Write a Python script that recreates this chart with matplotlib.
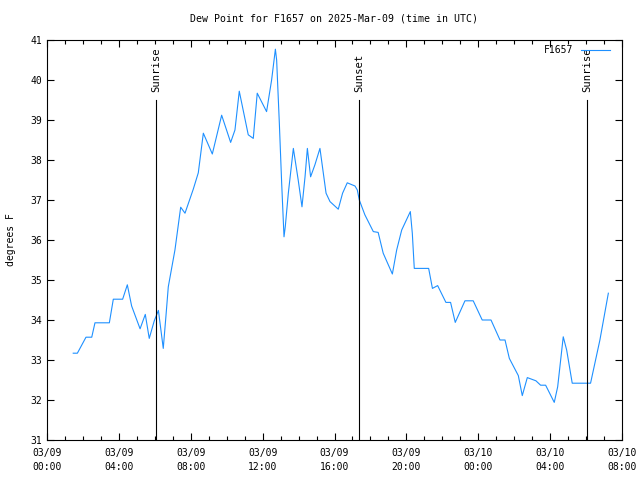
import matplotlib
matplotlib.use("Agg")
import matplotlib.pyplot as plt
from matplotlib.ticker import MultipleLocator

# hours since 2025-03-09 00:00 UTC
hours = [1.46, 1.69, 2.17, 2.49, 2.67, 3.47, 3.69, 4.21, 4.47, 4.71, 5.18, 5.47,
         5.69, 5.97, 6.2, 6.47, 6.62, 6.75, 7.12, 7.44, 7.68, 8.14, 8.42, 8.7,
         9.2, 9.72, 10.22, 10.46, 10.7, 11.2, 11.48, 11.7, 12.22, 12.5, 12.71,
         12.78, 12.93, 13.06, 13.19, 13.26, 13.43, 13.71, 13.98, 14.19, 14.36,
         14.49, 14.67, 14.91, 15.19, 15.53, 15.75, 16.21, 16.45, 16.71, 17.14,
         17.27, 17.38, 17.69, 18.16, 18.43, 18.71, 19.22, 19.46, 19.74, 20.22,
         20.33, 20.44, 21.24, 21.45, 21.74, 22.2, 22.46, 22.72, 23.26, 23.72,
         24.22, 24.71, 25.21, 25.49, 25.73, 26.23, 26.45, 26.73, 27.21, 27.47,
         27.75, 28.23, 28.42, 28.73, 28.92, 29.23, 30.25, 30.77, 31.24]
dewpoint = [33.17, 33.17, 33.57, 33.57, 33.93, 33.93, 34.52, 34.52, 34.88, 34.35,
            33.78, 34.14, 33.54, 33.98, 34.24, 33.29, 34.1, 34.83, 35.75, 36.82,
            36.67, 37.27, 37.68, 38.67, 38.15, 39.12, 38.44, 38.75, 39.72, 38.63,
            38.54, 39.67, 39.21, 40.0, 40.77, 40.5, 38.92, 37.42, 36.08, 36.33,
            37.17, 38.29, 37.5, 36.83, 37.58, 38.29, 37.58, 37.88, 38.29, 37.17,
            36.96, 36.77, 37.17, 37.43, 37.35, 37.25, 37.0, 36.63, 36.21, 36.19,
            35.67, 35.15, 35.75, 36.25, 36.71, 36.17, 35.29, 35.29, 34.79, 34.86,
            34.44, 34.44, 33.94, 34.48, 34.48, 34.0, 34.0, 33.5, 33.5, 33.04,
            32.61, 32.11, 32.56, 32.48, 32.37, 32.37, 31.94, 32.33, 33.58, 33.25,
            32.42, 32.42, 33.5, 34.67]

sun_events = ["Sunrise", "Sunset", "Sunrise"]
sun_hours = [6.07, 17.36, 30.05]

tick_hours = [0, 4, 8, 12, 16, 20, 24, 28, 32]
tick_labels = ["03/09\n00:00", "03/09\n04:00", "03/09\n08:00", "03/09\n12:00",
               "03/09\n16:00", "03/09\n20:00", "03/10\n00:00", "03/10\n04:00",
               "03/10\n08:00"]

plt.rcParams['font.family'] = 'DejaVu Sans Mono'

fig = plt.figure(figsize=(6.4, 4.8), dpi=100)
ax = fig.add_axes([47/640, 40/480, 575/640, 400/480])

ax.plot(hours, dewpoint, color='#1e90ff', lw=0.8, label='F1657')

for name, h in zip(sun_events, sun_hours):
    ax.plot([h, h], [31, 39.5], color='black', lw=0.8)
    ax.text(h, 39.69, name, rotation=90, ha='center', va='bottom', fontsize=7.6)

ax.set_xlim(0, 32)
ax.set_ylim(31, 41)
ax.set_xticks(tick_hours)
ax.set_xticklabels(tick_labels, linespacing=1.45)
ax.xaxis.set_minor_locator(MultipleLocator(1))
ax.yaxis.set_major_locator(MultipleLocator(1))
ax.tick_params(which='both', direction='in', top=True, right=True, labelsize=7,
               width=0.8)
ax.tick_params(which='major', length=5)
ax.tick_params(which='minor', length=3)
ax.tick_params(axis='x', pad=6)
for s in ax.spines.values():
    s.set_linewidth(0.8)
ax.set_ylabel('degrees F', fontsize=7, labelpad=10)
ax.set_title('Dew Point for F1657 on 2025-Mar-09 (time in UTC)', fontsize=7.1, pad=13)

leg = ax.legend(loc='upper right', bbox_to_anchor=(0.979, 0.9875), frameon=False,
                fontsize=7, handlelength=3, borderaxespad=0, borderpad=0,
                handletextpad=0.8, markerfirst=False)

fig.savefig('out.png', dpi=100)
